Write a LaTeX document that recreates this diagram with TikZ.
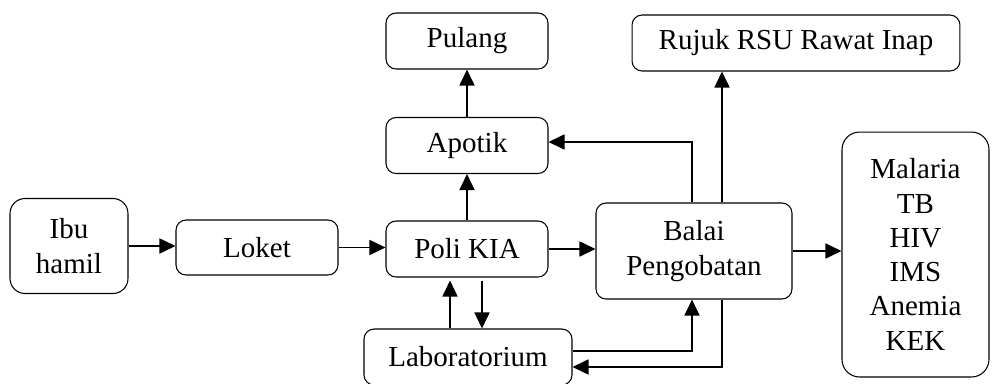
\documentclass[tikz,border=0pt]{standalone}
\usepackage{fontspec}
\setmainfont{Liberation Serif}
\usetikzlibrary{arrows.meta}

\begin{document}
\begin{tikzpicture}[x=0.02cm,y=-0.02cm,
  box/.style={draw,rounded corners=0.2cm,align=center,inner sep=0pt,line width=0.6pt,font=\fontsize{16.5}{19.5}\selectfont},
  flow/.style={-{Triangle[length=0.32cm,width=0.3cm]},line width=1pt}]
\useasboundingbox (0,0) rectangle (992,383);
\clip (0,0) rectangle (992,383);
% kotak
\node[box,rounded corners=0.3cm,minimum width=2.36cm,minimum height=1.9cm] (ibu) at (69,246) {Ibu\\hamil};
\node[box,minimum width=3.24cm,minimum height=1.1cm] (loket) at (257,247.5) {Loket};
\node[box,minimum width=3.24cm,minimum height=1.12cm] (poli) at (467,249) {Poli KIA};
\node[box,minimum width=3.24cm,minimum height=1.12cm] (apotik) at (467,145.5) {Apotik};
\node[box,minimum width=3.24cm,minimum height=1.12cm] (pulang) at (467,41) {Pulang};
\node[box,minimum width=6.56cm,minimum height=1.12cm] (rujuk) at (796,43) {Rujuk RSU Rawat Inap};
\node[box,minimum width=3.92cm,minimum height=1.92cm] (balai) at (694,251) {Balai\\Pengobatan};
\node[box,rounded corners=0.35cm,minimum width=2.94cm,minimum height=4.9cm] (penyakit) at (915.5,254.5) {Malaria\\TB\\HIV\\IMS\\Anemia\\KEK};
\node[box,minimum width=4.16cm,minimum height=1.12cm] (lab) at (468,357) {Laboratorium};
% alur
\draw[flow] (ibu.east) -- (ibu.east -| loket.west);
\draw[flow] (loket.east) -- (loket.east -| poli.west);
\draw[flow] (poli.east) -- (poli.east -| balai.west);
\draw[flow] (balai.east) -- (balai.east -| penyakit.west);
\draw[flow] (poli.north) -- (apotik.south);
\draw[flow] (apotik.north) -- (pulang.south);
\draw[flow] ([xshift=-0.04cm]balai.north) |- ([yshift=0.07cm]apotik.east);
\draw[flow] ([xshift=0.56cm]balai.north) -- ([xshift=0.56cm]balai.north |- rujuk.south);
\draw[flow] ([xshift=-0.36cm]lab.north) -- ([xshift=-0.36cm,yshift=-0.06cm]lab.north |- poli.south);
\draw[flow] ([xshift=0.28cm,yshift=-0.06cm]lab.north |- poli.south) -- ([xshift=0.28cm]lab.north);
\draw[flow] ([yshift=0.12cm]lab.east) -| ([xshift=-0.04cm]balai.south);
\draw[flow] ([xshift=0.56cm]balai.south) |- ([yshift=-0.2cm]lab.east);
\end{tikzpicture}
\end{document}
